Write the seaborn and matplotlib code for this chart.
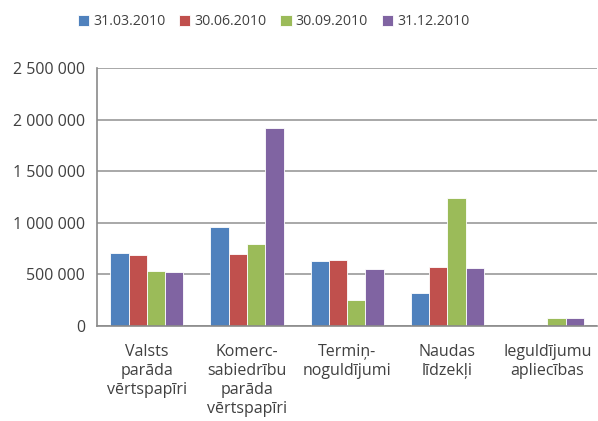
import numpy as np
import pandas as pd
import seaborn as sns
import matplotlib.pyplot as plt
from matplotlib.ticker import FuncFormatter, FixedLocator

categories = ["Valsts\nparāda\nvērtspapīri", "Komerc-\nsabiedrību\nparāda\nvērtspapīri",
              "Termiņ-\nnoguldījumi", "Naudas\nlīdzekļi", "Ieguldījumu\napliecības"]
dates = ["31.03.2010", "30.06.2010", "30.09.2010", "31.12.2010"]
q1 = [710000, 955000, 630000, 320000, 0]
q2 = [686000, 698000, 643000, 575000, 0]
q3 = [533000, 795000, 252000, 1238000, 78000]
q4 = [524000, 1924000, 553000, 559000, 78000]
colors = ["#4F81BD", "#C0504D", "#9BBB59", "#8064A2"]

df = pd.DataFrame({"cat": categories * 4,
                   "date": np.repeat(dates, len(categories)),
                   "value": q1 + q2 + q3 + q4})

sns.set_style("white")
plt.rcParams["font.family"] = ["Open Sans", "DejaVu Sans"]

fig = plt.figure(figsize=(5.98, 4.21), dpi=100)
ax = fig.add_axes([0.162, 0.226, 0.837, 0.612])

sns.barplot(data=df, x="cat", y="value", hue="date", palette=colors,
            width=0.73, ax=ax, edgecolor="white", linewidth=0.6, saturation=1)

ax.set_ylim(0, 2500000)
ax.set_xlim(-0.5, 4.5)
ax.set_yticks(range(0, 2500001, 500000))
ax.yaxis.set_major_formatter(FuncFormatter(lambda v, p: f"{int(v):,}".replace(",", " ")))
ax.grid(axis="y", color="#9a9a9a", linewidth=1.2)
ax.set_axisbelow(True)
for s in ["top", "right"]:
    ax.spines[s].set_visible(False)
for s in ["left", "bottom"]:
    ax.spines[s].set_color("#8a8a8a")
    ax.spines[s].set_linewidth(1.2)
ax.set_xlabel("")
ax.set_ylabel("")
ax.tick_params(axis="x", which="major", length=0, pad=13, labelsize=11.5, labelcolor="#404040")
ax.xaxis.set_minor_locator(FixedLocator(np.arange(-0.5, 5, 1)))
ax.tick_params(axis="x", which="minor", length=5, color="#8a8a8a", width=1.2, direction="out")
ax.tick_params(axis="y", length=5, color="#8a8a8a", width=1.2, labelsize=11.5, labelcolor="#404040")
for lab in ax.get_xticklabels():
    lab.set_verticalalignment("top")
    lab.set_linespacing(1.25)

ax.legend(loc="center", bbox_to_anchor=(0.353, 1.18), ncol=4, frameon=False,
          fontsize=10.2, handlelength=0.8, handleheight=0.8, handletextpad=0.3,
          columnspacing=0.95, labelcolor="#404040")

fig.savefig("out.png", dpi=100)
